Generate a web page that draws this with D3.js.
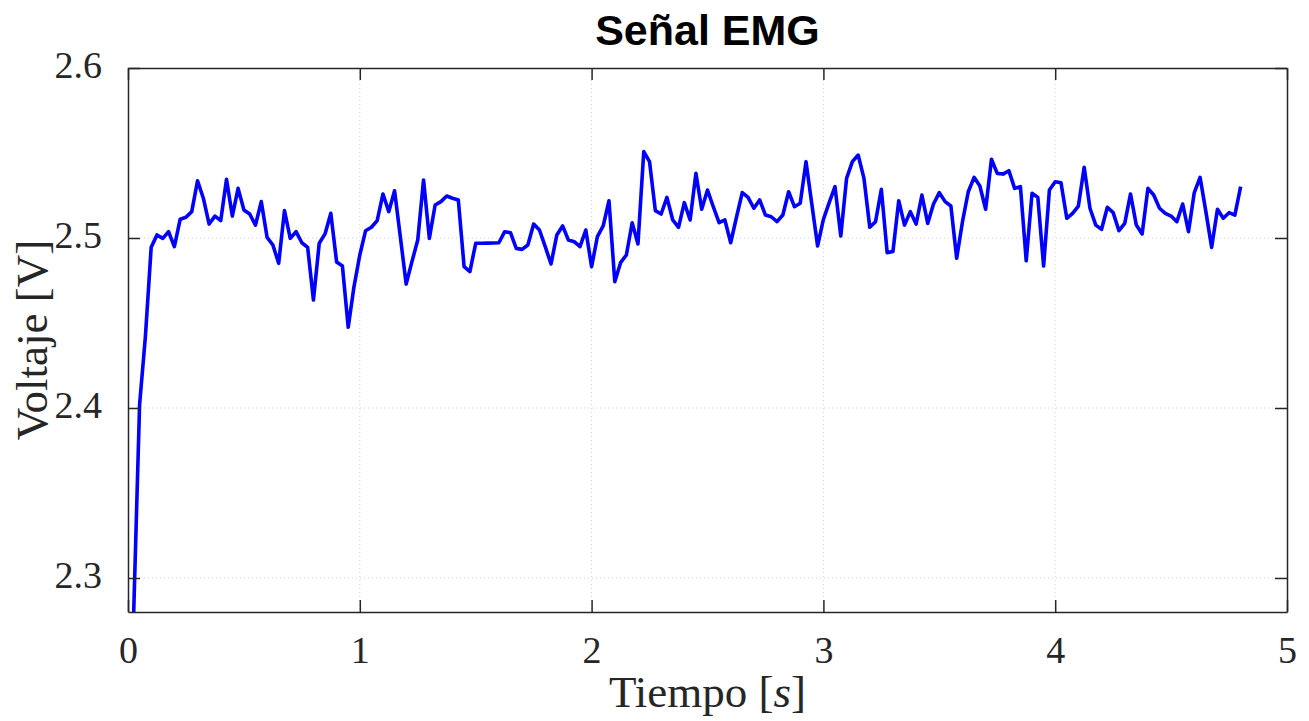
<!DOCTYPE html>
<html>
<head>
<meta charset="utf-8">
<script src="https://cdn.jsdelivr.net/npm/d3@7"></script>
<style>
  body { margin: 0; background: #fff; }
  .tick text { font-family: "Liberation Serif", serif; }
</style>
</head>
<body>
<script>
// sampling period of the EMG capture (s)
var sampleStep = 0.025;

// voltage samples (V)
var voltage = [
  2.15, 2.282, 2.402, 2.442, 2.4945, 2.5018, 2.4998, 2.5037, 2.4949, 2.511,
  2.5122, 2.5155, 2.5337, 2.5234, 2.5082, 2.5129, 2.5102, 2.5345, 2.5129, 2.5292,
  2.5165, 2.5141, 2.5076, 2.5214, 2.5004, 2.4959, 2.4851, 2.5161, 2.4998, 2.5037,
  2.4972, 2.4945, 2.4635, 2.4969, 2.5024, 2.5145, 2.4859, 2.4835, 2.4475, 2.4714,
  2.49, 2.5043, 2.5063, 2.5102, 2.5259, 2.5155, 2.5278, 2.5006, 2.4729, 2.4861,
  2.4988, 2.5341, 2.4998, 2.5194, 2.5214, 2.5247, 2.5234, 2.5224, 2.4831, 2.4802,
  2.4969, 2.4969, 2.497, 2.4971, 2.4972, 2.5037, 2.5031, 2.4939, 2.4933, 2.4959,
  2.5082, 2.5047, 2.4949, 2.4847, 2.5018, 2.5071, 2.4988, 2.4978, 2.4949, 2.5047,
  2.4831, 2.5008, 2.5071, 2.5219, 2.4743, 2.4855, 2.49, 2.509, 2.4965, 2.5508,
  2.5449, 2.5161, 2.5141, 2.5239, 2.5106, 2.5063, 2.5208, 2.5106, 2.538, 2.5169,
  2.5282, 2.5184, 2.509, 2.5106, 2.4972, 2.5122, 2.5267, 2.5239, 2.5175, 2.5224,
  2.5135, 2.5125, 2.5096, 2.5135, 2.5272, 2.5184, 2.5204, 2.5449, 2.520, 2.4953,
  2.511, 2.5208, 2.5302, 2.5012, 2.5351, 2.5449, 2.5488, 2.5351, 2.5063, 2.5096,
  2.5286, 2.4914, 2.492, 2.5219, 2.5076, 2.5155, 2.5082, 2.5253, 2.5086, 2.52,
  2.5267, 2.5214, 2.5188, 2.4881, 2.5096, 2.5272, 2.5357, 2.5306, 2.5169, 2.5463,
  2.538, 2.5376, 2.5396, 2.5292, 2.5302, 2.4866, 2.5263, 2.5239, 2.4835, 2.5282,
  2.5331, 2.5325, 2.5116, 2.5145, 2.5188, 2.5416, 2.5175, 2.5076, 2.5051, 2.5181,
  2.5149, 2.5043, 2.5086, 2.5259, 2.5076, 2.5024, 2.5292, 2.5253, 2.5175, 2.5145,
  2.5129, 2.5096, 2.52, 2.5037, 2.5267, 2.5357, 2.5155, 2.4945, 2.5169, 2.5116,
  2.5149, 2.5135, 2.5302
];

var xTicks = [0, 1, 2, 3, 4, 5];
var yTicks = [2.3, 2.4, 2.5, 2.6];
var xDomain = [0, 5];
var yDomain = [2.28, 2.6];

var W = 1309, H = 721;
var margin = {top: 68, right: 22, bottom: 109, left: 128};
var width = W - margin.left - margin.right,
    height = H - margin.top - margin.bottom;

var axisColor = '#262626';

var svg = d3.select('body').append('svg')
    .attr('width', W)
    .attr('height', H);

var g = svg.append('g')
    .attr('transform', 'translate(' + margin.left + ',' + margin.top + ')');

var x = d3.scaleLinear().domain(xDomain).range([0, width]);
var y = d3.scaleLinear().domain(yDomain).range([height, 0]);

// dotted grid
g.append('g').selectAll('line.gx')
    .data(xTicks.slice(1, -1))
    .enter().append('line')
    .attr('x1', function(d) { return x(d); })
    .attr('x2', function(d) { return x(d); })
    .attr('y1', 0).attr('y2', height)
    .attr('stroke', '#d0d0d0')
    .attr('stroke-width', 1)
    .attr('stroke-dasharray', '1,3');

g.append('g').selectAll('line.gy')
    .data(yTicks.filter(function(d) { return d < yDomain[1]; }))
    .enter().append('line')
    .attr('x1', 0).attr('x2', width)
    .attr('y1', function(d) { return y(d); })
    .attr('y2', function(d) { return y(d); })
    .attr('stroke', '#d0d0d0')
    .attr('stroke-width', 1)
    .attr('stroke-dasharray', '1,3');

// clip the signal to the plot box
g.append('clipPath').attr('id', 'plotClip')
  .append('rect').attr('width', width).attr('height', height);

var line = d3.line()
    .x(function(d, i) { return x(i * sampleStep); })
    .y(function(d) { return y(d); });

g.append('path')
    .datum(voltage)
    .attr('clip-path', 'url(#plotClip)')
    .attr('fill', 'none')
    .attr('stroke', '#0000ff')
    .attr('stroke-width', 3.6)
    .attr('stroke-linejoin', 'round')
    .attr('d', line);

// axes with inward ticks (box on all sides)
function styleAxis(sel) {
  sel.select('.domain').attr('stroke', axisColor).attr('stroke-width', 1.5);
  sel.selectAll('.tick line').attr('stroke', axisColor).attr('stroke-width', 1.5);
  sel.selectAll('.tick text').attr('fill', axisColor).style('font-size', '38px');
}

var xAxis = g.append('g')
    .attr('transform', 'translate(0,' + height + ')')
    .call(d3.axisBottom(x).tickValues(xTicks).tickSizeInner(-12).tickSizeOuter(0).tickPadding(24)
      .tickFormat(d3.format('d')));
styleAxis(xAxis);
xAxis.selectAll('.tick text').attr('dy', '0.71em');

var yAxis = g.append('g')
    .call(d3.axisLeft(y).tickValues(yTicks).tickSizeInner(-12).tickSizeOuter(0).tickPadding(26)
      .tickFormat(d3.format('.1f')));
styleAxis(yAxis);
yAxis.selectAll('.tick text').attr('dy', '0.25em');

var topAxis = g.append('g')
    .call(d3.axisTop(x).tickValues(xTicks).tickSizeInner(-12).tickSizeOuter(0).tickFormat(''));
styleAxis(topAxis);

var rightAxis = g.append('g')
    .attr('transform', 'translate(' + width + ',0)')
    .call(d3.axisRight(y).tickValues(yTicks).tickSizeInner(-12).tickSizeOuter(0).tickFormat(''));
styleAxis(rightAxis);

// title
svg.append('text')
    .attr('x', margin.left + width / 2)
    .attr('y', 45)
    .attr('text-anchor', 'middle')
    .style('font-family', '"Liberation Sans", Arial, sans-serif')
    .style('font-weight', 'bold')
    .style('font-size', '43px')
    .attr('fill', '#000')
    .text('Señal EMG');

// x label
var xl = svg.append('text')
    .attr('x', margin.left + width / 2)
    .attr('y', 707)
    .attr('text-anchor', 'middle')
    .style('font-family', '"Liberation Serif", serif')
    .style('font-size', '45px')
    .attr('fill', axisColor);
xl.append('tspan').text('Tiempo [');
xl.append('tspan').style('font-style', 'italic').text('s');
xl.append('tspan').text(']');

// y label
svg.append('text')
    .attr('transform', 'translate(47,' + (margin.top + height / 2) + ') rotate(-90)')
    .attr('text-anchor', 'middle')
    .style('font-family', '"Liberation Serif", serif')
    .style('font-size', '45px')
    .attr('fill', axisColor)
    .text('Voltaje [V]');
</script>
</body>
</html>
